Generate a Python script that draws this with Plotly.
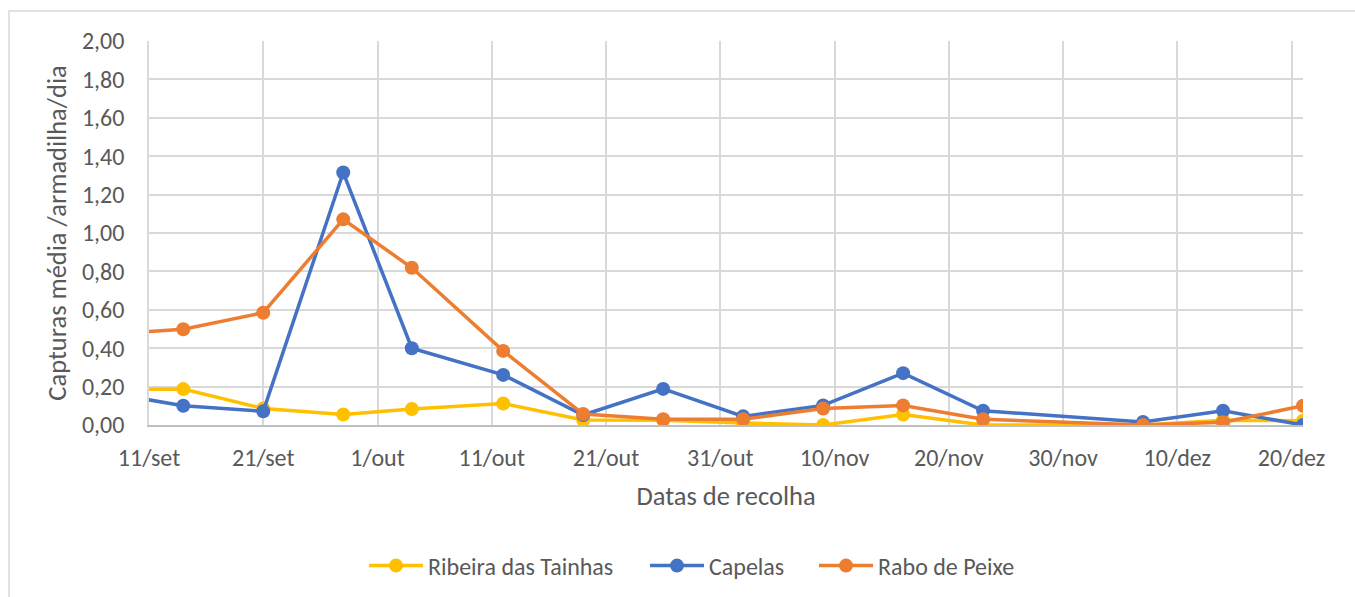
import plotly.graph_objects as go

# ---- data ----
dates = ["2019-09-07", "2019-09-14", "2019-09-21", "2019-09-28", "2019-10-04",
         "2019-10-12", "2019-10-19", "2019-10-26", "2019-11-02", "2019-11-09",
         "2019-11-16", "2019-11-23", "2019-12-07", "2019-12-14", "2019-12-21"]
ribeira_das_tainhas = [0.185, 0.187, 0.086, 0.055, 0.083, 0.112, 0.026, 0.025, 0.010,
                       0.000, 0.055, 0.000, 0.000, 0.025, 0.022]
capelas = [0.172, 0.100, 0.071, 1.315, 0.400, 0.261, 0.052, 0.188, 0.045,
           0.102, 0.270, 0.074, 0.016, 0.074, 0.000]
rabo_de_peixe = [0.471, 0.499, 0.585, 1.071, 0.819, 0.386, 0.057, 0.030, 0.030,
                 0.086, 0.102, 0.030, 0.000, 0.014, 0.100]

tick_dates = ["2019-09-11", "2019-09-21", "2019-10-01", "2019-10-11", "2019-10-21",
              "2019-10-31", "2019-11-10", "2019-11-20", "2019-11-30", "2019-12-10",
              "2019-12-20"]
tick_labels = ["11/set", "21/set", "1/out", "11/out", "21/out", "31/out",
               "10/nov", "20/nov", "30/nov", "10/dez", "20/dez"]
y_ticks = [0.0, 0.2, 0.4, 0.6, 0.8, 1.0, 1.2, 1.4, 1.6, 1.8, 2.0]
y_labels = ["0,00", "0,20", "0,40", "0,60", "0,80", "1,00", "1,20", "1,40", "1,60", "1,80", "2,00"]

series = [
    ("Ribeira das Tainhas", ribeira_das_tainhas, "#FFC000"),
    ("Capelas", capelas, "#4472C4"),
    ("Rabo de Peixe", rabo_de_peixe, "#ED7D31"),
]

FONT = "Calibri, Carlito, Lato, sans-serif"
TXT = "#595959"

# plot-area pixel geometry (used for paper-coordinate placement)
PL, PR, PT, PB = 149, 1303, 41, 425
def px_x(p):
    return (p - PL) / (PR - PL)
def px_y(p):
    return (PB - p) / (PB - PT)

legend_names = ["legend", "legend2", "legend3"]
legend_left_px = [364, 645, 814]

fig = go.Figure()
for (name, vals, col), lg in zip(series, legend_names):
    fig.add_trace(go.Scatter(
        x=dates, y=vals, name=name, mode="lines+markers",
        line=dict(color=col, width=3.5),
        marker=dict(color=col, size=14),
        cliponaxis=True, legend=lg,
    ))

legend_common = dict(orientation="h", xanchor="left", yanchor="middle",
                     font=dict(family=FONT, size=24, color=TXT), itemwidth=54,
                     bgcolor="rgba(0,0,0,0)")
layout_legends = {}
for lg, lx in zip(legend_names, legend_left_px):
    layout_legends[lg] = dict(legend_common, x=px_x(lx), y=px_y(566))

fig.update_layout(
    width=1355, height=597,
    margin=dict(l=PL, r=1355 - PR, t=PT, b=597 - PB, autoexpand=False),
    paper_bgcolor="white", plot_bgcolor="white",
    font=dict(family=FONT, size=24, color=TXT),
    showlegend=True,
    **layout_legends,
    xaxis=dict(
        type="date", range=["2019-09-11", "2019-12-21"],
        tickvals=tick_dates, ticktext=tick_labels,
        showgrid=True, gridcolor="#D9D9D9", gridwidth=1.5,
        showline=True, linecolor="#BFBFBF", linewidth=1.5,
        ticks="", tickfont=dict(family=FONT, size=24, color=TXT),
        ticklabelstandoff=10, automargin=False,
        title=dict(text="Datas de recolha", font=dict(family=FONT, size=26.5, color=TXT), standoff=16),
        zeroline=False,
    ),
    yaxis=dict(
        range=[0, 2.0], tickvals=y_ticks, ticktext=y_labels,
        showgrid=True, gridcolor="#D9D9D9", gridwidth=1.5,
        showline=True, linecolor="#D9D9D9", linewidth=1.5,
        ticks="", tickfont=dict(family=FONT, size=24, color=TXT),
        ticklabelstandoff=18, automargin=False,
        title=dict(text="Capturas média /armadilha/dia", font=dict(family=FONT, size=26.5, color=TXT), standoff=8),
        zeroline=False,
    ),
    shapes=[dict(type="rect", xref="paper", yref="paper",
                 x0=px_x(9), x1=px_x(1400),
                 y0=px_y(650), y1=px_y(11),
                 line=dict(color="#D9D9D9", width=1.5), layer="below")],
)

fig.write_html("out.html", config={"displayModeBar": False},
               post_script="document.body.style.margin='0px';")
